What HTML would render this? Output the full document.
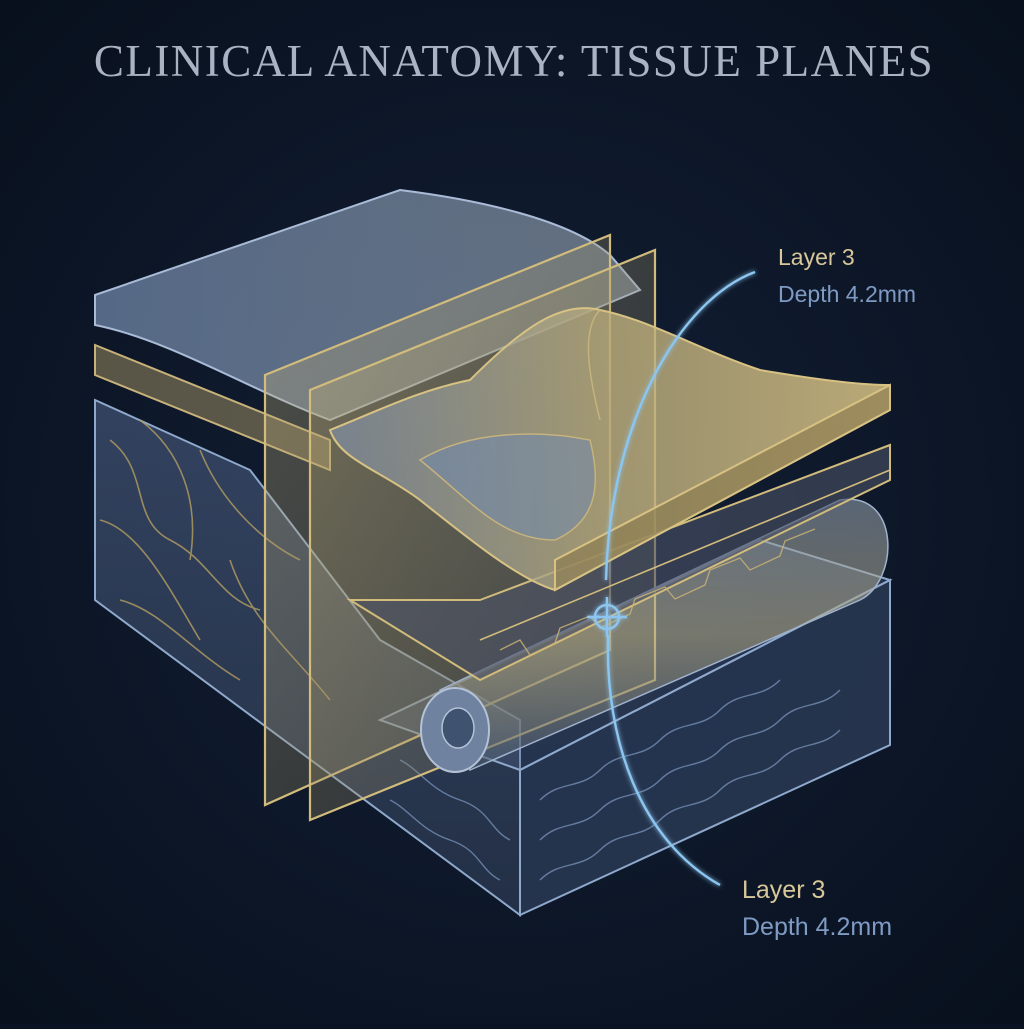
<!DOCTYPE html>
<html><head><style>
html,body{margin:0;padding:0;background:#0a1323;}
body{width:1024px;height:1024px;overflow:hidden;}
</style></head><body>
<svg width="1024" height="1024" viewBox="0 0 1024 1024" xmlns="http://www.w3.org/2000/svg">
<defs>
<radialGradient id="bg" cx="0.5" cy="0.5" r="0.7"><stop offset="0" stop-color="#132037"/><stop offset="1" stop-color="#08101d"/></radialGradient>
<linearGradient id="blue" x1="0" y1="0" x2="1" y2="0"><stop offset="0" stop-color="#6d84a6" stop-opacity="0.75"/><stop offset="1" stop-color="#9aa8b6" stop-opacity="0.6"/></linearGradient>
<linearGradient id="gold" x1="0" y1="0" x2="1" y2="0"><stop offset="0" stop-color="#7f8fa6" stop-opacity="0.7"/><stop offset="0.5" stop-color="#b9ab7a" stop-opacity="0.8"/><stop offset="1" stop-color="#d9c385" stop-opacity="0.85"/></linearGradient>
<linearGradient id="side" x1="0" y1="0" x2="0" y2="1"><stop offset="0" stop-color="#3f5070" stop-opacity="0.75"/><stop offset="1" stop-color="#2a3850" stop-opacity="0.75"/></linearGradient>
<linearGradient id="plane" x1="0" y1="0" x2="1" y2="1"><stop offset="0" stop-color="#c9b57a" stop-opacity="0.35"/><stop offset="1" stop-color="#6f6a55" stop-opacity="0.25"/></linearGradient>
<linearGradient id="cyl" x1="0" y1="0" x2="0" y2="1"><stop offset="0" stop-color="#8c99a8" stop-opacity="0.6"/><stop offset="0.5" stop-color="#b8ae86" stop-opacity="0.55"/><stop offset="1" stop-color="#4a5a72" stop-opacity="0.6"/></linearGradient>
<filter id="glow"><feGaussianBlur stdDeviation="2.5" result="b"/><feMerge><feMergeNode in="b"/><feMergeNode in="SourceGraphic"/></feMerge></filter>
</defs>
<rect width="1024" height="1024" fill="url(#bg)"/>
<text x="514" y="76" text-anchor="middle" font-family="Liberation Serif, serif" font-size="45" fill="#a9b3c2" letter-spacing="1.5">CLINICAL ANATOMY: TISSUE PLANES</text>

<polygon points="95,400 95,600 520,915 520,720 380,640 250,470" fill="url(#side)" stroke="#8fa9cc" stroke-width="2"/>
<polygon points="520,915 890,745 890,580 520,770" fill="#2e3e5a" fill-opacity="0.75" stroke="#8fa9cc" stroke-width="2"/>
<g fill="none" stroke="#b49e62" stroke-width="1.6" opacity="0.8">
<path d="M110,440 C150,470 130,520 170,540 S220,600 260,610"/>
<path d="M140,420 C180,450 200,500 190,560"/>
<path d="M100,520 C140,530 170,590 200,640"/>
<path d="M200,450 C220,500 260,540 300,560"/>
<path d="M230,560 C250,620 290,650 330,700"/>
<path d="M120,600 C160,610 190,650 240,680"/>
</g>
<g fill="none" stroke="#7f9bc2" stroke-width="1.4" opacity="0.7">
<path d="M540,880 c20,-20 40,-10 60,-30 s40,-10 60,-30 s40,-10 60,-30 s40,-10 60,-30 s40,-10 60,-30"/>
<path d="M540,840 c20,-20 40,-10 60,-30 s40,-10 60,-30 s40,-10 60,-30 s40,-10 60,-30 s40,-10 60,-30"/>
<path d="M540,800 c20,-20 40,-10 60,-30 s40,-10 60,-30 s40,-10 60,-30 s40,-10 60,-30"/>
<path d="M400,760 c20,10 30,30 60,40 s30,30 50,40"/>
<path d="M390,800 c20,10 30,30 60,40 s30,30 50,40"/>
</g>
<polygon points="380,720 520,770 890,580 760,540" fill="#50648a" fill-opacity="0.35" stroke="#8fa9cc" stroke-width="2"/>

<path d="M95,295 L400,190 C480,200 570,220 610,255 L640,290 L330,420 C250,390 170,340 95,325 Z" fill="url(#blue)" stroke="#a9bbd6" stroke-width="2"/>
<polygon points="95,345 330,440 330,470 95,375" fill="#b9a56c" fill-opacity="0.45" stroke="#c8b27a" stroke-width="2"/>

<polygon points="265,375 610,235 610,650 265,805" fill="url(#plane)" stroke="#d2bc7c" stroke-width="2.2"/>
<polygon points="310,390 655,250 655,680 310,820" fill="url(#plane)" stroke="#d2bc7c" stroke-width="2.2"/>

<path d="M440,690 L840,500 C900,490 900,580 860,600 L470,770 Z" fill="url(#cyl)" stroke="#9fb2cc" stroke-width="1.5"/>
<ellipse cx="455" cy="730" rx="34" ry="42" fill="#6f82a0" stroke="#b3c2d6" stroke-width="2"/>
<ellipse cx="458" cy="728" rx="16" ry="20" fill="#3f5270" stroke="#b3c2d6" stroke-width="1.5"/>

<polygon points="480,600 890,445 890,480 480,680 350,600" fill="#4b5166" fill-opacity="0.6" stroke="#d2bc7c" stroke-width="2"/>
<path d="M480,640 890,470" stroke="#d2bc7c" stroke-width="1.6"/>
<g fill="none" stroke="#c9b274" stroke-width="1.3" opacity="0.85">
<path d="M500,650 l20,-10 l10,15 l25,-12 l5,-15 l30,-12 l10,12 l30,-14 l5,-15 l30,-12 l10,12 l30,-14 l5,-15 l30,-12 l10,12 l30,-14 l5,-15 l30,-12"/>
</g>

<path d="M330,430 C380,410 420,390 470,380 C520,330 560,300 600,310 C650,320 700,350 760,370 C820,380 860,385 890,385 L890,410 L555,590 C520,580 470,540 420,500 C380,470 340,460 330,430 Z" fill="url(#gold)" stroke="#d8c283" stroke-width="2"/>
<path d="M555,560 L890,385 L890,410 L555,590 Z" fill="#8a7a4c" fill-opacity="0.6" stroke="#d8c283" stroke-width="2"/>
<path d="M420,460 C470,430 540,430 590,440 C600,480 600,520 555,540 C500,540 470,500 420,460 Z" fill="#6f88ad" fill-opacity="0.55" stroke="#c6b27c" stroke-width="1.5"/>
<path d="M600,310 C580,330 590,380 600,420" fill="none" stroke="#c6b27c" stroke-width="1.5"/>

<g filter="url(#glow)" stroke="#8cc6f0" stroke-width="2.4" fill="none">
<path d="M755,272 C680,300 610,420 606,580"/>
<path d="M608,635 C605,740 640,840 720,885"/>
<circle cx="607" cy="617" r="12"/>
<path d="M587,617 h40 M607,597 v40"/>
</g>

<g font-family="Liberation Sans, sans-serif">
<text x="778" y="265" fill="#d8c79a" font-size="23">Layer 3</text>
<text x="778" y="302" fill="#7f9bc4" font-size="23">Depth 4.2mm</text>
<text x="742" y="898" fill="#d8c79a" font-size="25">Layer 3</text>
<text x="742" y="935" fill="#7f9bc4" font-size="25">Depth 4.2mm</text>
</g>
</svg>
</body></html>
